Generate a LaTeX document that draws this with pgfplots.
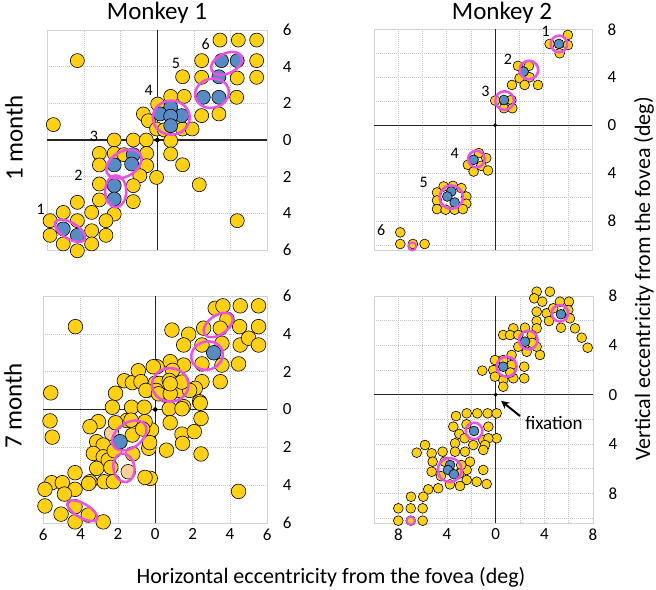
\documentclass[border=0pt]{standalone}
\usepackage{fontspec}
\setmainfont{Carlito}
\usepackage{pgfplots}
\pgfplotsset{compat=1.18}
\usetikzlibrary{arrows.meta}
\definecolor{gold}{RGB}{255,208,20}
\definecolor{cblue}{RGB}{88,138,196}
\definecolor{peach}{RGB}{252,206,152}
\definecolor{mag}{RGB}{235,82,225}
\pgfplotsset{
 panel/.style={scale only axis, clip=false, clip marker paths=true, anchor=north west,
  axis line style={gray!35, line width=0.5bp},
  grid=both,
  major grid style={gray!45, dash pattern=on 1bp off 1bp, line width=0.5bp},
  minor grid style={gray!45, dash pattern=on 1bp off 1bp, line width=0.5bp},
  tick style={draw=none},
  yticklabel pos=right,
  ticklabel style={font=\fontsize{17bp}{17bp}\selectfont},
  yticklabel style={xshift=12bp},
  xticklabel style={yshift=-2bp}},
 gd/.style={only marks, mark=*, mark size=#1, mark options={fill=gold, draw=black, line width=0.6bp}},
 bl/.style={only marks, mark=*, mark size=#1, mark options={fill=cblue, draw=black, line width=0.6bp}},
 pc/.style={only marks, mark=*, mark size=#1, mark options={fill=peach, draw=black, line width=0.6bp}},
 zl/.style={black!85, line width=1.1bp, forget plot},
}
\tikzset{el/.style={draw=mag, line width=2.5bp}, num/.style={font=\fontsize{16bp}{16bp}\selectfont}}
\begin{document}
\begin{tikzpicture}[x=1bp,y=1bp]
\path[use as bounding box] (0,0) rectangle (656,-590);
% ---------------- Panel 1: Monkey 1, 1 month
\begin{axis}[panel, at={(47.3bp,-30bp)}, width=220bp, height=220bp,
 xmin=-6,xmax=6,ymin=-6,ymax=6, xtick={-6,-4,...,6}, ytick={-6,-4,...,6},
 xticklabels={}, yticklabels={6,4,2,0,2,4,6}]
\addplot[zl] coordinates {(-6,0) (6,0)};
\addplot[zl] coordinates {(0,-6) (0,6)};
\addplot[gd=7bp] coordinates {
(3.42,5.45) (4.42,5.45) (5.42,5.45)
(-4.36,4.33) (2.42,4.33) (5.42,4.33)
(1.38,3.45) (2.42,3.42) (4.36,3.38) (5.42,3.42)
(0.73,2.38) (1.47,2.38) (4.33,2.33)
(0.02,1.96) (-0.76,1.42) (2.42,1.33) (3.36,1.42)
(-0.49,1.05) (-0.04,0.6) (0.38,0.55) (1.38,0.6) (1.9,0.6)
(-5.67,0.84)
(0.73,-0.04) (0.73,-0.76) (1.38,-1.35) (2.29,-2.44) (4.36,-4.4)
(-2.35,0) (-1.31,0) (-0.6,0)
(-3.16,-0.73) (-2.35,-0.73) (-1.82,-0.8) (-0.58,-0.73)
(-3.16,-1.36) (-0.58,-1.4)
(-0.04,-2.04) (-0.95,-1.95)
(-3.16,-2.4) (-1.31,-2.49)
(-3.16,-3.27) (-1.31,-3.36)
(-2.35,-4.04) (-4.36,-3.4) (-5.13,-3.95) (-3.58,-3.95)
(-4.36,-4.4) (-5.85,-4.4) (-2.8,-4.4)
(-3.58,-4.95) (-5.85,-5.2) (-2.8,-5.2)
(-5.13,-5.67) (-4.36,-6.04) (-3.58,-5.67)
};
\addplot[bl=7bp] coordinates {
(3.5,4.33) (4.36,4.33) (3.36,3.45) (2.51,2.33) (3.36,2.33)
(0.73,1.78) (0.15,1.42) (1.33,1.33) (0.73,1.3) (0.73,0.78)
(-1.31,-0.8) (-2.35,-1.36) (-1.4,-1.31) (-2.35,-2.49) (-2.35,-3.22)
(-5.13,-4.85) (-4.36,-5.2)
};
\addplot[only marks, mark=*, mark size=2bp, black] coordinates {(0,0)};
\draw[el] (axis cs:-4.76,-4.95) ellipse [x radius=17bp, y radius=8bp, rotate=-31];
\draw[el] (axis cs:-2.27,-2.8) ellipse [x radius=10.5bp, y radius=16bp];
\draw[el] (axis cs:-1.82,-1.31) ellipse [x radius=19bp, y radius=12.5bp, rotate=30];
\draw[el] (axis cs:0.76,1.22) ellipse [x radius=18.5bp, y radius=17bp];
\draw[el] (axis cs:2.98,2.55) ellipse [x radius=17bp, y radius=14.5bp, rotate=15];
\draw[el] (axis cs:3.78,4.18) ellipse [x radius=16.5bp, y radius=10bp, rotate=25];
\node[num] at (axis cs:-6.36,-3.76) {1};
\node[num] at (axis cs:-4.3,-1.95) {2};
\node[num] at (axis cs:-3.45,0.18) {3};
\node[num] at (axis cs:-0.47,2.69) {4};
\node[num] at (axis cs:1.02,4.15) {5};
\node[num] at (axis cs:2.64,5.24) {6};
\end{axis}
% ---------------- Panel 2: Monkey 2, 1 month
\begin{axis}[panel, at={(374bp,-29.3bp)}, width=218bp, height=220.7bp,
 xmin=-10,xmax=8,ymin=-10.4,ymax=8, xtick={-8,-4,0,4,8}, minor xtick={-10,-6,-2,2,6},
 ytick={-8,-4,0,4,8}, minor ytick={-10,-6,-2,2,6},
 xticklabels={}, yticklabels={8,4,0,4,8}]
\addplot[zl] coordinates {(-10,0) (8,0)};
\addplot[zl] coordinates {(0,-10.4) (0,8)};
\addplot[gd=4.9bp] coordinates {
(6.01,7.53) (4.5,6.78) (6.01,6.69) (5.33,6.0)
(1.89,4.95) (2.79,4.95) (2.02,3.92) (2.85,4.0) (1.39,3.36) (2.44,3.36) (3.54,3.36)
(0.01,2.06) (1.34,2.11) (0.73,1.42) (1.42,1.42)
(-1.34,-2.32) (-0.73,-2.74) (-2.25,-3.3) (-1.78,-3.86) (-1.14,-3.38) (-0.59,-3.77)
(-4.25,-5.1) (-3.48,-5.05) (-2.79,-5.24) (-4.8,-5.6) (-2.38,-5.94) (-4.8,-6.27) (-2.38,-6.54)
(-4.8,-6.99) (-4.09,-7.04) (-3.34,-7.04) (-2.66,-6.99)
(-7.83,-8.93) (-7.83,-9.9) (-6.79,-9.9) (-5.82,-9.9)
};
\addplot[bl=4.9bp] coordinates {
(5.27,6.78) (2.35,4.47) (0.73,2.11) (-1.78,-2.88)
(-3.62,-5.52) (-3.95,-5.94) (-3.34,-6.44)
};
\addplot[only marks, mark=*, mark size=1.8bp, black] coordinates {(0,0)};
\draw[el] (axis cs:5.27,6.78) circle [radius=8.3bp];
\draw[el] (axis cs:2.79,4.61) circle [radius=9.3bp];
\draw[el] (axis cs:0.78,2.06) circle [radius=9.3bp];
\draw[el] (axis cs:-1.55,-2.82) circle [radius=8.3bp];
\draw[el] (axis cs:-3.62,-5.99) circle [radius=11.7bp];
\draw[el, line width=2bp] (axis cs:-6.84,-10.1) circle [radius=4bp];
\node[num] at (axis cs:4.17,7.8) {1};
\node[num] at (axis cs:1.06,5.5) {2};
\node[num] at (axis cs:-0.81,2.81) {3};
\node[num] at (axis cs:-3.34,-2.32) {4};
\node[num] at (axis cs:-5.9,-4.77) {5};
\node[num] at (axis cs:-9.4,-8.71) {6};
\end{axis}
% ---------------- Panel 3: Monkey 1, 7 month
\begin{axis}[panel, at={(43.3bp,-296bp)}, width=224bp, height=227bp,
 xmin=-6,xmax=6,ymin=-6,ymax=6, xtick={-6,-4,...,6}, ytick={-6,-4,...,6},
 xticklabels={6,4,2,0,2,4,6}, yticklabels={6,4,2,0,2,4,6}]
\addplot[zl] coordinates {(-6,0) (6,0)};
\addplot[zl] coordinates {(0,-6) (0,6)};
\addplot[pc=7.3bp] coordinates {(-2.34,-1.26) (-1.45,-3.29)};
\addplot[gd=7.3bp] coordinates {
(-4.28,4.38) (-5.6,0.88) (-5.64,-0.6) (-5.52,-1.46) (4.46,-4.33)
(3.21,5.35) (3.62,5.48) (4.55,5.48) (5.53,5.48) (3.84,4.77) (3.48,4.3) (4.52,4.38) (5.53,4.38)
(0.89,4.2) (1.79,3.98) (2.59,4.3) (1.52,3.41) (2.5,3.41) (3.57,3.5) (4.55,3.41) (5.0,3.77) (5.53,3.41)
(2.5,2.41) (3.57,2.35) (4.46,2.41) (3.48,1.47) (2.5,1.47) (1.52,2.35) (0.8,2.53) (0.09,2.26)
(2.14,1.12) (2.37,0.41) (1.52,0.15)
(-1.66,1.52) (-1.23,1.42) (-0.91,2.05) (-0.11,2.26) (-0.77,1.47) (-2.13,0.86) (-0.37,1.03) (0,1.39)
(0.93,2.07) (0.21,1.38) (0.75,1.54) (0.04,1.01) (0.57,0.75) (1.29,1.01) (1.84,1.01) (0.75,0.04) (1.43,0.04)
(-0.5,1.01) (-2.3,0.12) (-1.27,0.12) (-0.59,0.12)
(0.17,0.83) (0.8,0.83) (1.42,1.45) (0.8,1.36) (-1.53,-0.58)
(0.8,-0.7) (1.43,-1.3) (2.09,-1.17) (1.46,-1.79) (0.6,-2.15) (-0.35,-2.05) (2.45,-2.35) (-0.27,-3.64)
(-0.2,-1.08) (-0.3,-1.75) (2.45,-0.47) (2.41,0.33)
(-3.05,-0.64) (-3.5,-0.91) (-2.13,-0.7) (-1.3,-0.56) (-0.55,-0.64) (-1.23,-1.35) (-3.14,-1.7) (-2.79,-1.88)
(-3.32,-2.32) (-2.79,-2.5) (-3.14,-3.11) (-2.52,-2.67) (-0.55,-3.59) (-3.5,-3.82) (-2.73,-3.82) (-2.25,-3.82)
(-2.2,-2.18) (-1.21,-2.35) (-2.38,-3.06) (-0.68,-1.03)
(-4.3,-3.34) (-5.55,-3.87) (-4.98,-3.87) (-5.91,-4.22) (-4.3,-4.22) (-4.87,-4.47) (-5.91,-5.1)
(-5.05,-5.53) (-4.3,-5.14) (-3.59,-5.58) (-4.3,-5.94) (-2.79,-5.94) (-3.57,-3.91)
};
\addplot[bl=7.3bp] coordinates {(-1.89,-1.7) (3.13,3.0)};
\addplot[only marks, mark=*, mark size=2bp, black] coordinates {(0,0)};
\draw[el] (axis cs:-3.91,-5.35) ellipse [x radius=17bp, y radius=7bp, rotate=-30];
\draw[el] (axis cs:-1.68,-3.08) ellipse [x radius=10.5bp, y radius=14.5bp, rotate=10];
\draw[el] (axis cs:-1.39,-1.37) ellipse [x radius=19bp, y radius=12.5bp, rotate=35];
\draw[el] (axis cs:0.8,1.3) ellipse [x radius=18.3bp, y radius=16.7bp];
\draw[el] (axis cs:2.77,2.85) ellipse [x radius=16bp, y radius=14bp, rotate=20];
\draw[el] (axis cs:3.37,4.47) ellipse [x radius=16.5bp, y radius=9.5bp, rotate=35];
\end{axis}
% ---------------- Panel 4: Monkey 2, 7 month
\begin{axis}[panel, at={(374bp,-296bp)}, width=219bp, height=227bp,
 xmin=-10,xmax=8,ymin=-10.4,ymax=8, xtick={-8,-4,0,4,8}, minor xtick={-10,-6,-2,2,6},
 ytick={-8,-4,0,4,8}, minor ytick={-10,-6,-2,2,6},
 xticklabels={8,4,0,4,8}, yticklabels={8,4,0,4,8}]
\addplot[zl] coordinates {(-10,0) (8,0)};
\addplot[zl] coordinates {(0,-10.4) (0,8)};
\addplot[gd=4.9bp] coordinates {
(3.37,8.35) (4.46,8.35) (3.17,7.81) (3.83,7.54) (5.28,7.54) (6.02,7.54) (3.37,6.73) (4.19,6.6) (4.73,7.0)
(5.97,6.86) (6.1,6.19) (4.38,5.97) (3.37,5.97) (5.37,5.43) (6.52,5.38) (7.07,4.62) (7.56,3.81) (3.37,5.38)
(2.41,5.43) (1.45,5.38) (0.62,4.84) (1.18,4.84) (1.86,4.84) (2.96,4.84) (1.86,3.89) (2.55,3.48) (3.37,3.89)
(3.64,3.22) (1.31,3.22) (3.0,4.2)
(2.35,2.27) (2.35,1.33) (1.45,1.33) (-0.06,2.81) (-0.2,2.0) (-1.1,1.95) (0.62,2.81) (1.31,2.41) (0.62,1.19)
(0.62,0.65) (-0.06,1.46) (1.2,1.8)
(-3.26,-1.73) (-2.38,-1.51) (-1.51,-1.51) (-0.66,-1.51) (0.08,-1.51) (-3.48,-2.59) (-2.99,-3.18) (-0.6,-2.59)
(0.08,-3.53) (-1.84,-4.08) (-1.02,-3.67) (-3.34,-3.94) (-0.6,-3.53) (-0.88,-4.08) (-2.55,-3.53) (-2.4,-2.4)
(-5.81,-4.08) (-6.49,-4.7) (-5.26,-4.75) (-4.36,-4.62) (-3.34,-4.62) (-2.52,-4.62) (-1.02,-4.48) (-5.18,-5.43)
(-2.11,-5.43) (-2.38,-6.1) (-1.02,-6.1) (-5.26,-6.24) (-1.56,-7.05) (-0.74,-7.24) (-2.38,-6.91) (-4.72,-7.58)
(-3.76,-7.27) (-2.93,-7.4) (-5.54,-7.67) (-4.19,-5.43) (-2.83,-5.7) (-4.5,-6.6) (-3.0,-6.4)
(-5.95,-8.27) (-6.96,-8.27) (-8.0,-9.21) (-6.98,-9.21) (-6.0,-9.21) (-8.0,-10.21) (-6.98,-10.21) (-6.0,-10.21)
};
\addplot[bl=4.9bp] coordinates {
(5.37,6.52) (2.41,4.3) (0.62,2.27) (-1.78,-2.94) (-3.75,-5.7) (-3.92,-6.1) (-3.43,-6.45)
};
\addplot[only marks, mark=*, mark size=1.8bp, black] coordinates {(0,0)};
\draw[el] (axis cs:5.28,6.6) circle [radius=8.3bp];
\draw[el] (axis cs:2.68,4.43) circle [radius=9.3bp];
\draw[el] (axis cs:0.9,2.27) circle [radius=10bp];
\draw[el] (axis cs:-1.78,-2.94) circle [radius=8.3bp];
\draw[el] (axis cs:-3.78,-6.1) circle [radius=12bp];
\draw[el, line width=2bp] (axis cs:-6.98,-10.21) circle [radius=4bp];
\draw[-{Stealth[length=8bp,width=8bp]}, line width=2bp] (axis cs:2.0,-1.73) -- (axis cs:0.45,-0.5);
\end{axis}
% ---------------- Texts
\node[font=\fontsize{19bp}{19bp}\selectfont] at (554,-423) {fixation};
\node[font=\fontsize{25bp}{25bp}\selectfont, inner sep=0pt] at (157,-13) {Monkey 1};
\node[font=\fontsize{25bp}{25bp}\selectfont, inner sep=0pt] at (502,-13) {Monkey 2};
\node[font=\fontsize{25bp}{25bp}\selectfont, rotate=90, inner sep=0pt] at (14,-138) {1 month};
\node[font=\fontsize{25bp}{25bp}\selectfont, rotate=90, inner sep=0pt] at (13,-406) {7 month};
\node[font=\fontsize{22bp}{22bp}\selectfont, rotate=90, inner sep=0pt] at (644,-279) {Vertical eccentricity from the fovea (deg)};
\node[font=\fontsize{22bp}{22bp}\selectfont, inner sep=0pt] at (331,-577) {Horizontal eccentricity from the fovea (deg)};
\end{tikzpicture}
\end{document}
